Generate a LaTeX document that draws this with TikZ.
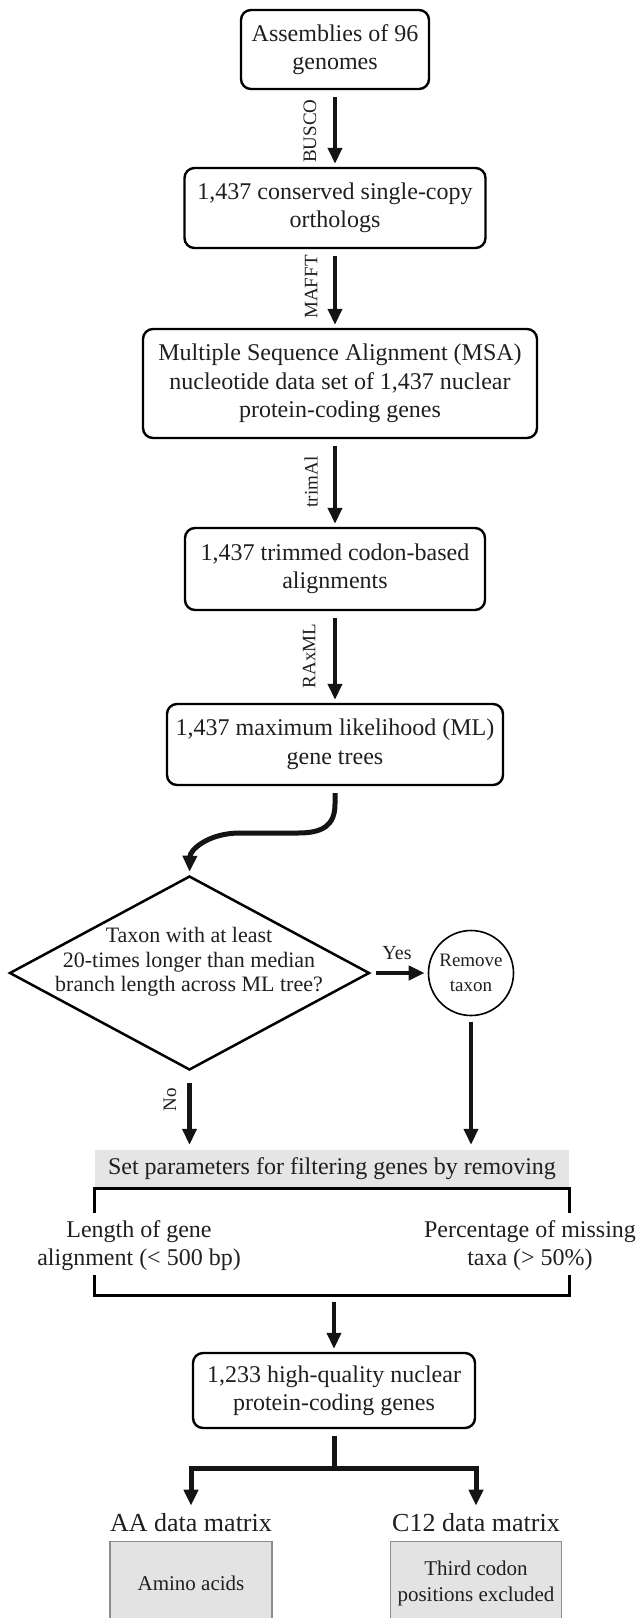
\documentclass[tikz,border=0pt]{standalone}
\usepackage{fontspec}
\setmainfont{Liberation Serif}
\usetikzlibrary{arrows.meta,shapes.geometric}
\begin{document}
\begin{tikzpicture}[x=1pt,y=-1pt,
  txt/.style={text=black!88, inner sep=0pt, align=center},
  box/.style={txt, draw=black, line width=2.4pt, rounded corners=10pt, font=\fontsize{24}{28.5}\selectfont},
  arr/.style={draw=black!92, line width=4.5pt, -{Triangle[width=14pt,length=16pt]}, shorten <=7pt, shorten >=3pt},
  tool/.style={txt, rotate=90, font=\fontsize{19}{22}\selectfont},
  lbl/.style={txt, font=\fontsize{24}{28}\selectfont},
  mat/.style={txt, font=\fontsize{26}{30}\selectfont},
  graybox/.style={txt, fill=black!11, draw=black!45, line width=1.2pt, font=\fontsize{21}{26}\selectfont},
  brk/.style={draw=black, line width=3pt}
]
\useasboundingbox (0,0) rectangle (638,1618);

% main boxes
\node[box, minimum width=188pt, minimum height=79pt] (b1) at (335,49.5) {Assemblies of 96\\genomes};
\node[box, minimum width=301pt, minimum height=80pt] (b2) at (335,208) {1,437 conserved single-copy\\orthologs};
\node[box, minimum width=394pt, minimum height=109pt] (b3) at (340,383.5) {Multiple Sequence Alignment (MSA)\\nucleotide data set of 1,437 nuclear\\protein-coding genes};
\node[box, minimum width=300pt, minimum height=82pt] (b4) at (335,569) {1,437 trimmed codon-based\\alignments};
\node[box, minimum width=336pt, minimum height=81pt] (b5) at (335,744.5) {1,437 maximum likelihood (ML)\\gene trees};

% tool labels
\node[tool] (lbusco) at (310,131) {BUSCO};
\node[tool] (lmafft) at (311,287) {MAFFT};
\node[tool] (ltrim) at (311,482) {trimAl};
\node[tool] (lrax) at (309,656) {RAxML};

% arrows between boxes
\draw[arr] (b1.south) -- (b2.north);
\draw[arr] (b2.south) -- (b2.south |- b3.north);
\draw[arr] (b3.south -| b4.north) -- (b4.north);
\draw[arr] (b4.south) -- (b5.north);

% decision
\node[draw=black, line width=2.5pt, diamond, minimum width=360pt, minimum height=194pt, inner sep=0pt] (dia) at (189.5,973) {};
\node[txt, font=\fontsize{22}{24.5}\selectfont] (diat) at (189,962) {Taxon with at least\\20-times longer than median\\branch length across ML tree?};
\node[txt, draw=black, line width=1.6pt, circle, minimum size=85pt, font=\fontsize{19}{25}\selectfont] (circ) at (471,973) {Remove\\taxon};
\node[txt, font=\fontsize{20}{22}\selectfont] (yes) at (397,953) {Yes};

\draw[arr, line width=5pt, shorten <=0pt] ([yshift=-7pt]b5.south) -- (335,804)
  .. controls (335,826) and (322,833) .. (298,833) -- (240,833)
  .. controls (208,833) and (190,850) .. (dia.north);
\draw[arr, shorten <=5pt] (dia.east) -- (circ.west);

% filtering
\node[txt, fill=black!10, minimum width=474pt, minimum height=38pt, font=\fontsize{24}{28}\selectfont] (bar) at (332,1169) {Set parameters for filtering genes by removing};
\draw[arr, shorten <=12pt, shorten >=5pt] (dia.south) -- (dia.south |- bar.north);
\node[tool] (lno) at (170,1100) {No};
\draw[arr, shorten <=6pt, shorten >=5pt] (circ.south) -- (circ.south |- bar.north);

\draw[brk] (bar.south west) ++(0,25) -- (bar.south west) -- (bar.south east) -- ++(0,25);
\node[lbl] (len) at (139,1246) {Length of gene\\alignment (< 500 bp)};
\node[lbl] (pct) at (530,1246) {Percentage of missing\\taxa (> 50\%)};
\coordinate (brb) at (332,1295);
\draw[brk] (bar.south west |- brb) ++(0,-20) -- (bar.south west |- brb) -- (bar.south east |- brb) -- ++(0,-20);

\node[box, minimum width=282pt, minimum height=75pt] (b6) at (334,1390.5) {1,233 high-quality nuclear\\protein-coding genes};
\draw[arr] (b6.north |- brb) -- (b6.north);

% outputs
\node[mat] (aal) at (191,1523) {AA data matrix};
\node[mat] (c12l) at (476,1523) {C12 data matrix};
\coordinate (fork) at (334,1468);
\draw[draw=black!92, line width=5pt] ([yshift=-7pt]b6.south) -- (fork);
\draw[arr, line width=5pt, shorten <=0pt, shorten >=8pt] (fork) -| (aal.north);
\draw[arr, line width=5pt, shorten <=0pt, shorten >=8pt] (fork) -| (c12l.north);

\node[graybox, minimum width=162pt, minimum height=84pt, anchor=north] (aab) at (191,1541) {Amino acids};
\node[graybox, minimum width=171pt, minimum height=84pt, anchor=north] (c12b) at (476,1541) {Third codon\\positions excluded};
\end{tikzpicture}
\end{document}
